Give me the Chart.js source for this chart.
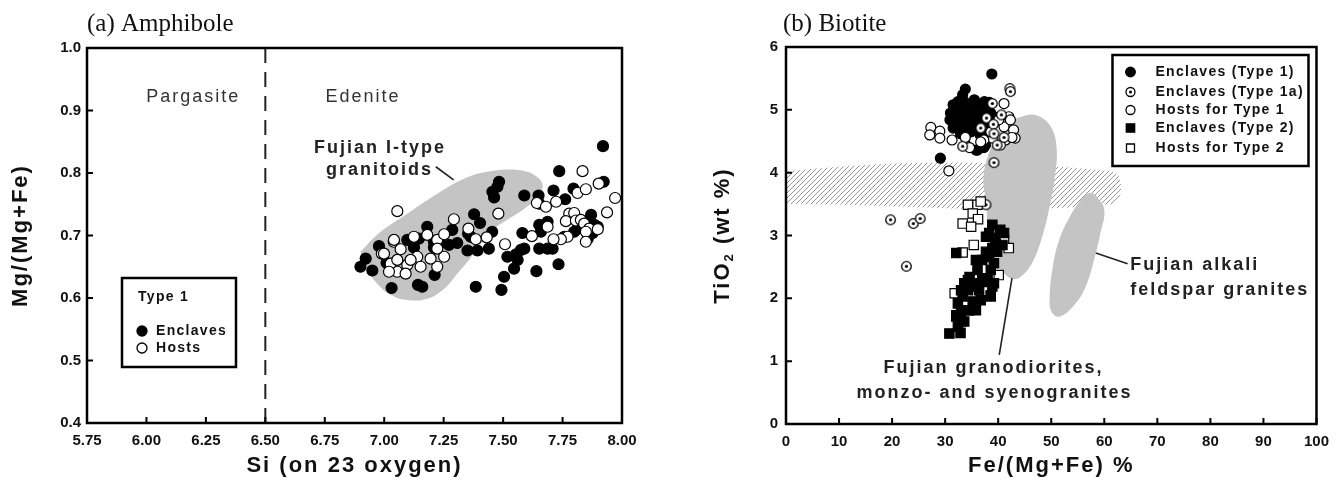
<!DOCTYPE html>
<html>
<head>
<meta charset="utf-8">
<script src="https://cdn.jsdelivr.net/npm/chart.js@4.4.1/dist/chart.umd.min.js"></script>
<style>
  html, body { margin: 0; padding: 0; background: #fff; }
  #wrap { position: relative; width: 1338px; height: 482px; }
  #amph { position: absolute; left: 0; top: 0; }
  #biot { position: absolute; left: 680px; top: 0; }
</style>
</head>
<body>
<div id="wrap">
  <canvas id="amph" width="680" height="482"></canvas>
  <canvas id="biot" width="658" height="482"></canvas>
</div>
<script>
"use strict";

// ---- (a) Amphibole: Si (apfu) vs Mg/(Mg+Fe) ----
const amphSiTicks = [5.75, 6.00, 6.25, 6.50, 6.75, 7.00, 7.25, 7.50, 7.75, 8.00];
const amphMgTicks = [0.4, 0.5, 0.6, 0.7, 0.8, 0.9, 1.0];

const amphEnclaves = [
    [6.900, 0.650], [6.922, 0.663], [6.950, 0.644], [6.978, 0.683], [7.031, 0.616], [7.010, 0.656],
    [7.142, 0.621], [7.160, 0.618], [7.212, 0.637],
    [7.097, 0.693], [7.146, 0.695], [7.181, 0.714], [7.209, 0.681], [7.237, 0.688], [7.272, 0.685],
    [7.286, 0.709], [7.307, 0.688], [7.209, 0.690], [7.125, 0.681],
    [7.378, 0.734], [7.403, 0.720], [7.353, 0.703], [7.364, 0.698], [7.350, 0.676], [7.392, 0.676],
    [7.440, 0.679], [7.454, 0.706],
    [7.483, 0.786], [7.476, 0.778], [7.455, 0.770], [7.462, 0.761],
    [7.385, 0.618], [7.493, 0.613], [7.504, 0.634],
    [7.546, 0.647], [7.518, 0.666], [7.561, 0.661], [7.575, 0.677], [7.589, 0.679], [7.554, 0.670],
    [7.589, 0.764], [7.649, 0.764], [7.652, 0.751], [7.712, 0.772], [7.761, 0.758], [7.796, 0.775],
    [7.736, 0.803], [7.923, 0.786], [7.920, 0.843],
    [7.640, 0.643], [7.733, 0.654],
    [7.581, 0.704], [7.652, 0.717], [7.687, 0.722], [7.659, 0.706], [7.652, 0.679], [7.687, 0.679], [7.708, 0.679],
    [7.757, 0.698], [7.799, 0.706], [7.813, 0.711], [7.870, 0.733], [7.884, 0.717], [7.877, 0.704],
    [7.841, 0.722], [7.898, 0.714], [7.856, 0.695]
];

const amphHosts = [
    [6.990, 0.671], [7.040, 0.690], [7.055, 0.739], [7.293, 0.726], [7.480, 0.735], [7.354, 0.711],
    [7.385, 0.694], [7.431, 0.697], [7.508, 0.686], [7.621, 0.699], [7.687, 0.714], [7.642, 0.752],
    [7.680, 0.746], [7.723, 0.754], [7.834, 0.803], [7.813, 0.768], [7.848, 0.774], [7.902, 0.783],
    [7.971, 0.760], [7.937, 0.737],
    [7.778, 0.735], [7.799, 0.736], [7.764, 0.723], [7.806, 0.724], [7.827, 0.725], [7.841, 0.719],
    [7.862, 0.711], [7.898, 0.710], [7.848, 0.706], [7.848, 0.690], [7.771, 0.698], [7.743, 0.694], [7.712, 0.694],
    [7.041, 0.693], [7.069, 0.678], [7.125, 0.698], [7.181, 0.701], [7.223, 0.693], [7.252, 0.702],
    [7.139, 0.666], [7.097, 0.653], [7.055, 0.642], [7.027, 0.655], [6.999, 0.671], [7.153, 0.650],
    [7.223, 0.650], [7.252, 0.666], [7.223, 0.679], [7.195, 0.663], [7.020, 0.642], [7.090, 0.639],
    [7.111, 0.661], [7.055, 0.661]
];

// outline of the Fujian I-type granitoid field
const amphGranitoidField = [
    [6.900, 0.674], [6.985, 0.706], [7.097, 0.735], [7.223, 0.767], [7.336, 0.791], [7.434, 0.802],
    [7.561, 0.805], [7.631, 0.797], [7.666, 0.781], [7.645, 0.762], [7.582, 0.741], [7.504, 0.722],
    [7.448, 0.706], [7.399, 0.683], [7.350, 0.658], [7.307, 0.639], [7.252, 0.615], [7.181, 0.599],
    [7.097, 0.597], [7.027, 0.605], [6.971, 0.623], [6.929, 0.645], [6.900, 0.674]
];
const amphBoundary = [[6.5, 0.4], [6.5, 1.0]];
const amphLeader = [[7.217, 0.810], [7.292, 0.789]];

// ---- (b) Biotite: Fe/(Mg+Fe) % vs TiO2 ----
const biotFeTicks = [0, 10, 20, 30, 40, 50, 60, 70, 80, 90, 100];
const biotTiTicks = [0, 1, 2, 3, 4, 5, 6];

const biotEnclaves1 = [
    [38.8, 5.57], [33.8, 5.33], [33.3, 5.24], [32.4, 5.13], [31.5, 5.08], [31.0, 4.95], [30.9, 4.84],
    [31.5, 4.71], [32.4, 4.71], [33.6, 4.84], [34.9, 5.00], [36.1, 5.05], [37.4, 5.13], [38.6, 4.95],
    [36.1, 4.73], [34.9, 4.65], [38.0, 4.79], [39.2, 4.89], [33.6, 5.13], [35.5, 5.16], [32.7, 4.92],
    [29.1, 4.23], [35.8, 4.36], [37.3, 4.40], [36.1, 4.36], [37.6, 4.44],
    [34.2, 4.90], [35.0, 4.78], [36.8, 4.90], [33.0, 4.98], [35.6, 4.95], [37.0, 4.70], [34.0, 5.08], [31.9, 4.85],
    [32.2, 5.00], [33.4, 4.76], [34.5, 4.85], [35.2, 5.08], [36.4, 4.82], [37.8, 5.02], [38.3, 5.12],
    [36.9, 5.10], [35.4, 4.70], [33.9, 4.67], [32.9, 4.62], [36.6, 4.60], [38.4, 4.60]
];
const biotEnclaves1a = [
    [42.2, 5.34], [42.3, 5.29], [38.9, 5.10], [40.6, 4.92], [37.8, 4.87], [39.1, 4.77], [36.7, 4.71],
    [39.2, 4.62], [41.1, 4.56], [33.3, 4.42], [39.8, 4.44], [39.2, 4.16],
    [19.7, 3.25], [24.0, 3.19], [25.3, 3.27], [22.7, 2.51], [37.7, 3.49]
];
const biotHosts1 = [
    [27.3, 4.72], [29.0, 4.66], [27.1, 4.60], [29.0, 4.55], [31.3, 4.52], [30.7, 4.03], [33.9, 4.44],
    [33.8, 4.56], [34.6, 4.40], [41.1, 5.10], [42.0, 4.89], [41.1, 4.73], [42.9, 4.68], [43.2, 4.55],
    [41.4, 4.52], [38.9, 4.55], [37.3, 4.52], [40.4, 4.44], [36.7, 4.49], [38.6, 4.65], [42.3, 4.84],
    [40.1, 4.84], [42.6, 4.56]
];
const biotEnclaves2 = [
    [30.8, 1.44], [32.9, 1.45], [32.4, 1.55], [32.1, 1.71], [33.0, 1.76], [33.6, 1.63], [34.6, 1.81],
    [32.4, 1.92], [33.3, 2.03], [34.3, 2.13], [35.2, 1.95], [35.8, 1.81], [33.6, 2.24], [34.6, 2.34],
    [35.5, 2.24], [36.4, 2.13], [36.7, 1.97], [38.6, 2.03], [38.9, 2.19], [36.1, 2.45], [37.0, 2.32],
    [38.0, 2.29], [39.2, 2.24], [35.8, 2.61], [37.0, 2.61], [38.3, 2.66], [39.2, 2.56], [38.6, 2.45],
    [37.7, 2.74], [38.9, 2.80], [39.8, 2.74], [39.5, 2.96], [38.3, 3.04], [38.9, 3.17], [40.4, 3.09],
    [41.1, 3.04], [37.7, 2.98], [40.8, 2.85], [32.1, 2.72], [34.3, 2.29], [33.0, 2.13],
    [32.1, 1.73], [34.3, 1.81], [35.5, 1.89], [38.6, 2.05], [35.2, 2.19], [37.4, 2.26]
];
const biotHosts2 = [
    [34.3, 3.49], [36.1, 3.49], [36.7, 3.54], [35.2, 3.35], [36.2, 3.26], [33.3, 3.19], [34.9, 3.14],
    [35.4, 2.85], [33.3, 2.73], [41.1, 2.93], [42.0, 2.80], [40.1, 2.37], [31.8, 2.08]
];

// fields and the hatched band
const biotGranodioriteField = [
    [43.6, 4.87], [46.7, 4.92], [49.7, 4.76], [51.0, 4.41], [50.6, 3.88], [49.7, 3.46], [48.5, 3.04],
    [46.5, 2.58], [44.2, 2.34], [42.6, 2.31], [41.1, 2.40], [38.6, 2.66], [37.7, 3.57], [37.2, 3.88],
    [38.0, 4.25], [39.8, 4.57], [41.3, 4.77], [43.6, 4.87]
];
const biotAlkaliField = [
    [58.4, 3.64], [60.0, 3.41], [59.2, 3.01], [58.4, 2.72], [56.6, 2.21], [54.3, 1.89], [51.6, 1.71],
    [50.1, 1.78], [49.7, 2.03], [50.4, 2.56], [51.5, 2.93], [53.2, 3.25], [55.6, 3.57], [57.3, 3.68],
    [58.4, 3.64]
];
const biotBand = [[0, 3.5], [61.5, 3.5], [61.5, 4.02], [0, 4.02], [0, 3.5]];
const biotLeaderGrano = [[42.6, 2.32], [40.2, 1.10]];
const biotLeaderAlkali = [[58.4, 2.72], [64.4, 2.55]];

const xy = arr => arr.map(p => ({x: p[0], y: p[1]}));


const dottedCircle = (r) => {
    const c = document.createElement('canvas');
    const s = Math.ceil(r * 2 + 3);
    c.width = c.height = s;
    const g = c.getContext('2d');
    g.beginPath();
    g.arc(s / 2, s / 2, r, 0, Math.PI * 2);
    g.fillStyle = '#fff';
    g.fill();
    g.lineWidth = 1.3;
    g.strokeStyle = '#000';
    g.stroke();
    g.beginPath();
    g.arc(s / 2, s / 2, 1.6, 0, Math.PI * 2);
    g.fillStyle = '#000';
    g.fill();
    return c;
};

const hatchPattern = (ctx) => {
    const c = document.createElement('canvas');
    c.width = c.height = 5;
    const g = c.getContext('2d');
    g.strokeStyle = '#8a8a8a';
    g.lineWidth = 0.9;
    g.beginPath();
    g.moveTo(0, 5); g.lineTo(5, 0);
    g.moveTo(-1, 1); g.lineTo(1, -1);
    g.moveTo(4, 6); g.lineTo(6, 4);
    g.stroke();
    return ctx.createPattern(c, 'repeat');
};

const SANS = '"Liberation Sans", Arial, sans-serif';
const SERIF = '"Liberation Serif", "Times New Roman", serif';

function spacedText(ctx, text, x, y, font, spacing, align, color) {
    ctx.font = font;
    ctx.letterSpacing = spacing;
    ctx.fillStyle = color || '#222';
    ctx.textAlign = align || 'center';
    ctx.textBaseline = 'middle';
    ctx.fillText(text, x, y);
    ctx.letterSpacing = '0px';
}

function drawMarker(ctx, kind, x, y, r) {
    ctx.lineWidth = 1.3;
    ctx.strokeStyle = '#000';
    ctx.beginPath();
    if (kind === 'sq' || kind === 'osq') {
        ctx.rect(x - r, y - r, 2 * r, 2 * r);
    } else {
        ctx.arc(x, y, r, 0, Math.PI * 2);
    }
    ctx.fillStyle = (kind === 'dot' || kind === 'sq') ? '#000' : '#fff';
    ctx.fill();
    ctx.stroke();
    if (kind === 'dotc') {
        ctx.beginPath();
        ctx.arc(x, y, 1.5, 0, Math.PI * 2);
        ctx.fillStyle = '#000';
        ctx.fill();
    }
}

// frame, inward ticks, axis titles, notes and legend box
const panelDecor = {
    id: 'panelDecor',
    afterDatasetsDraw(chart, args, opts) {
        const {ctx, chartArea: a, scales: {x, y}} = chart;
        ctx.save();
        ctx.strokeStyle = '#000';
        ctx.lineWidth = 2.5;
        ctx.strokeRect(a.left, a.top, a.right - a.left, a.bottom - a.top);
        ctx.lineWidth = 2;
        ctx.beginPath();
        x.ticks.forEach(t => {
            const px = x.getPixelForValue(t.value);
            ctx.moveTo(px, a.bottom); ctx.lineTo(px, a.bottom - 6);
        });
        y.ticks.forEach(t => {
            const py = y.getPixelForValue(t.value);
            ctx.moveTo(a.left, py); ctx.lineTo(a.left + 6, py);
        });
        ctx.stroke();

        (opts.notes || []).forEach(n => {
            spacedText(ctx, n.text, x.getPixelForValue(n.x), y.getPixelForValue(n.y),
                n.font, n.spacing, n.align, n.color);
        });

        const lg = opts.legend;
        if (lg) {
            const bx = lg.right ? a.right - lg.dx : a.left + lg.dx;
            const by = a.top + lg.dy;
            ctx.fillStyle = '#fff';
            ctx.fillRect(bx, by, lg.w, lg.h);
            ctx.lineWidth = 2.5;
            ctx.strokeStyle = '#000';
            ctx.strokeRect(bx, by, lg.w, lg.h);
            lg.items.forEach(it => {
                if (it.kind) drawMarker(ctx, it.kind, bx + lg.mx, by + it.dy, it.r);
                spacedText(ctx, it.text, bx + (it.kind ? lg.tx : lg.mx - 4), by + it.dy,
                    'bold 14px ' + SANS, '1.3px', 'left', '#111');
            });
        }

        const t = opts.titles;
        const cx = (a.left + a.right) / 2, cy = (a.top + a.bottom) / 2;
        spacedText(ctx, t.x, cx, 466, 'bold 22px ' + SANS, '2px', 'center', '#111');
        ctx.save();
        ctx.translate(t.yPos, cy);
        ctx.rotate(-Math.PI / 2);
        if (t.ySub) {
            ctx.font = 'bold 22px ' + SANS;
            ctx.letterSpacing = '2px';
            const w1 = ctx.measureText(t.y[0]).width;
            const w3 = ctx.measureText(t.y[2]).width;
            ctx.font = 'bold 13px ' + SANS;
            const w2 = ctx.measureText(t.y[1]).width;
            let sx = -(w1 + w2 + w3) / 2;
            ctx.fillStyle = '#111';
            ctx.textAlign = 'left';
            ctx.textBaseline = 'alphabetic';
            ctx.font = 'bold 22px ' + SANS;
            ctx.fillText(t.y[0], sx, 8);
            ctx.font = 'bold 13px ' + SANS;
            ctx.fillText(t.y[1], sx + w1, 12);
            ctx.font = 'bold 22px ' + SANS;
            ctx.fillText(t.y[2], sx + w1 + w2, 8);
        } else {
            spacedText(ctx, t.y, 0, 0, 'bold 22px ' + SANS, '2px', 'center', '#111');
        }
        ctx.restore();

        spacedText(ctx, t.panel, t.panelX, 24, '25px ' + SERIF, '0px', 'left', '#111');
        ctx.restore();
    }
};

const tickFont = {family: SANS, size: 15, weight: 'bold'};

function axes(xTicks, yTicks, xFmt, yFmt, yWidth, xHeight, yPad) {
    return {
        x: {
            type: 'linear',
            min: xTicks[0],
            max: xTicks[xTicks.length - 1],
            afterBuildTicks: s => { s.ticks = xTicks.map(v => ({value: v})); },
            afterFit: s => { s.height = xHeight; },
            grid: {display: false, drawTicks: false},
            border: {display: false},
            ticks: {font: tickFont, color: '#111', padding: 9, maxRotation: 0, autoSkip: false, callback: xFmt}
        },
        y: {
            type: 'linear',
            min: yTicks[0],
            max: yTicks[yTicks.length - 1],
            afterBuildTicks: s => { s.ticks = yTicks.map(v => ({value: v})); },
            afterFit: s => { s.width = yWidth; },
            grid: {display: false, drawTicks: false},
            border: {display: false},
            ticks: {font: tickFont, color: '#111', padding: yPad, autoSkip: false, callback: yFmt}
        }
    };
}

const points = (data, style, fill, r, order) => ({
    data: xy(data),
    pointStyle: style,
    pointRadius: r,
    pointHoverRadius: r,
    backgroundColor: fill,
    borderColor: '#000',
    borderWidth: 1.2,
    order: order
});

const field = (data, fill, order) => ({
    type: 'line',
    data: xy(data),
    fill: 'shape',
    tension: 0.4,
    backgroundColor: fill,
    borderWidth: 0,
    borderColor: 'rgba(0,0,0,0)',
    pointRadius: 0,
    order: order
});

const line = (data, dash, order) => ({
    type: 'line',
    data: xy(data),
    fill: false,
    borderColor: '#222',
    borderWidth: dash ? 2 : 1.6,
    borderDash: dash || [],
    pointRadius: 0,
    order: order
});


const ctx = document.getElementById('amph').getContext('2d');
const amphChart = new Chart(ctx, {
    type: 'scatter',
    data: {
        datasets: [
            field(amphGranitoidField, '#c4c4c4', 10),
            line(amphBoundary, [15, 9], 9),
            line(amphLeader, null, 9),
            points(amphEnclaves, 'circle', '#000', 5.5, 5),
            points(amphHosts, 'circle', '#fff', 5.5, 4)
        ]
    },
    options: {
        responsive: false,
        animation: false,
        layout: {padding: {left: 0, top: 48, right: 58, bottom: 0}},
        scales: axes(amphSiTicks, amphMgTicks, v => v.toFixed(2), v => v.toFixed(1), 87, 59, 6),
        plugins: {
            legend: {display: false},
            tooltip: {enabled: false},
            panelDecor: {
                notes: [
                    {text: 'Pargasite', x: 6.197, y: 0.922, font: '18px ' + SANS, spacing: '2px', color: '#333'},
                    {text: 'Edenite', x: 6.753, y: 0.922, font: '18px ' + SANS, spacing: '2px', align: 'left', color: '#333'},
                    {text: 'Fujian I-type', x: 6.982, y: 0.840, font: 'bold 18px ' + SANS, spacing: '2px', color: '#222'},
                    {text: 'granitoids', x: 6.980, y: 0.805, font: 'bold 18px ' + SANS, spacing: '2px', color: '#222'}
                ],
                legend: {
                    dx: 35, dy: 230, w: 114, h: 89, mx: 20, tx: 34,
                    items: [
                        {text: 'Type 1', dy: 19},
                        {text: 'Enclaves', kind: 'dot', r: 5, dy: 53},
                        {text: 'Hosts', kind: 'open', r: 5, dy: 70}
                    ]
                },
                titles: {x: 'Si (on 23 oxygen)', y: 'Mg/(Mg+Fe)', yPos: 21, panel: '(a) Amphibole', panelX: 87}
            }
        }
    },
    plugins: [panelDecor]
});


const ctx2 = document.getElementById('biot').getContext('2d');
const biotChart = new Chart(ctx2, {
    type: 'scatter',
    data: {
        datasets: [
            field(biotBand, hatchPattern(ctx2), 12),
            field(biotGranodioriteField, '#c4c4c4', 10),
            field(biotAlkaliField, '#c4c4c4', 10),
            line(biotLeaderGrano, null, 9),
            line(biotLeaderAlkali, null, 9),
            points(biotEnclaves1, 'circle', '#000', 5, 6),
            points(biotHosts1, 'circle', '#fff', 5, 5),
            points(biotEnclaves1a, dottedCircle(4.8), '#fff', 5, 4),
            points(biotHosts2, 'rect', '#fff', 6.6, 3),
            points(biotEnclaves2, 'rect', '#000', 6.6, 2)
        ]
    },
    options: {
        responsive: false,
        animation: false,
        layout: {padding: {left: 0, top: 47, right: 13, bottom: 0}},
        scales: axes(biotFeTicks, biotTiTicks, v => String(v), v => String(v), 106, 58, 8),
        plugins: {
            legend: {display: false},
            tooltip: {enabled: false},
            panelDecor: {
                notes: [
                    {text: 'Fujian granodiorites,', x: 39.1, y: 0.89, font: 'bold 18px ' + SANS, spacing: '2px', color: '#222'},
                    {text: 'monzo- and syenogranites', x: 39.3, y: 0.49, font: 'bold 18px ' + SANS, spacing: '2px', color: '#222'},
                    {text: 'Fujian alkali', x: 64.9, y: 2.53, font: 'bold 18px ' + SANS, spacing: '2px', align: 'left', color: '#222'},
                    {text: 'feldspar granites', x: 64.9, y: 2.13, font: 'bold 18px ' + SANS, spacing: '2px', align: 'left', color: '#222'}
                ],
                legend: {
                    right: true, dx: 204, dy: 8, w: 196, h: 111, mx: 18, tx: 43,
                    items: [
                        {text: 'Enclaves (Type 1)', kind: 'dot', r: 4.8, dy: 17},
                        {text: 'Enclaves (Type 1a)', kind: 'dotc', r: 4.5, dy: 37},
                        {text: 'Hosts for Type 1', kind: 'open', r: 4.5, dy: 55},
                        {text: 'Enclaves (Type 2)', kind: 'sq', r: 4.2, dy: 73},
                        {text: 'Hosts for Type 2', kind: 'osq', r: 4, dy: 93}
                    ]
                },
                titles: {x: 'Fe/(Mg+Fe) %', y: ['TiO', '2', ' (wt %)'], ySub: true, yPos: 41, panel: '(b) Biotite', panelX: 103}
            }
        }
    },
    plugins: [panelDecor]
});
</script>
</body>
</html>
